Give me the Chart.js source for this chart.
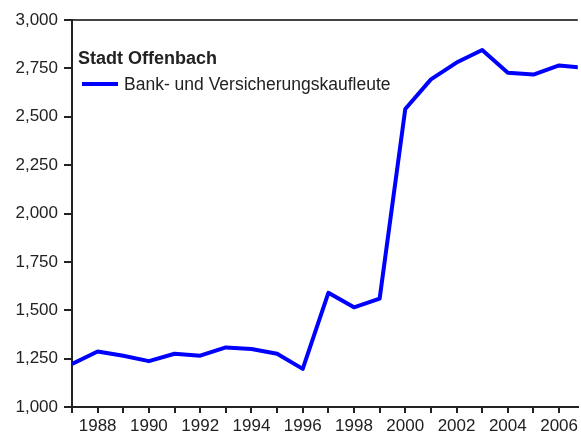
<!DOCTYPE html>
<html>
<head>
<meta charset="utf-8">
<script src="https://cdn.jsdelivr.net/npm/chart.js@4"></script>
<style>
  html, body { margin: 0; padding: 0; background: #fff; overflow: hidden; }
  #wrap { width: 581px; height: 435px; position: relative; }
</style>
</head>
<body>
<div id="wrap"><canvas id="chart" width="581" height="435"></canvas></div>
<script>
const legendTitle = 'Stadt Offenbach';
const seriesLabel = 'Bank- und Versicherungskaufleute';
const years = [1987, 1988, 1989, 1990, 1991, 1992, 1993, 1994, 1995, 1996, 1997,
               1998, 1999, 2000, 2001, 2002, 2003, 2004, 2005, 2006, 2007];
const values = [1222, 1287, 1265, 1237, 1275, 1265, 1308, 1300, 1275, 1197, 1590,
                1515, 1560, 2540, 2693, 2780, 2845, 2728, 2718, 2765, 2752];
const yMin = 1000, yMax = 3000, yStep = 250;
const xMin = 1987, xMax = 2006.73;

const textColor = '#222';
const fontFamily = '"Liberation Sans", Arial, sans-serif';

// legend drawn inside the plot, top left
const insideLegend = {
    id: 'insideLegend',
    afterDraw(chart) {
        const c = chart.ctx;
        const ds = chart.data.datasets[0];
        c.save();
        c.fillStyle = textColor;
        c.textBaseline = 'alphabetic';
        c.font = 'bold 18px ' + fontFamily;
        c.fillText(legendTitle, 78, 64);
        c.strokeStyle = ds.borderColor;
        c.lineWidth = 4;
        c.beginPath();
        c.moveTo(82, 84);
        c.lineTo(118, 84);
        c.stroke();
        c.font = '17.5px ' + fontFamily;
        c.fillText(ds.label, 124, 90);
        c.restore();
    }
};

const ctx = document.getElementById('chart').getContext('2d');
const chart = new Chart(ctx, {
    type: 'line',
    data: {
        datasets: [{
            label: seriesLabel,
            data: years.map((y, i) => ({ x: y, y: values[i] })),
            borderColor: '#0000ff',
            borderWidth: 4,
            pointRadius: 0,
            tension: 0,
            borderJoinStyle: 'round'
        }]
    },
    options: {
        responsive: false,
        animation: false,
        layout: { padding: { top: 20, right: 0, left: 0, bottom: 0 } },
        plugins: {
            legend: { display: false },
            tooltip: { enabled: false }
        },
        scales: {
            x: {
                type: 'linear',
                min: xMin,
                max: xMax,
                afterFit: s => { s.height = 28; },
                border: { color: textColor, width: 2 },
                grid: { drawOnChartArea: false, tickLength: 6, color: textColor, lineWidth: 2 },
                ticks: {
                    stepSize: 1,
                    autoSkip: false,
                    includeBounds: false,
                    maxRotation: 0,
                    padding: 3,
                    color: textColor,
                    font: { family: fontFamily, size: 17 },
                    callback: v => (Number.isInteger(v) && v % 2 === 0) ? String(v) : ''
                }
            },
            y: {
                min: yMin,
                max: yMax,
                afterFit: s => { s.width = 72; },
                border: { color: textColor, width: 2 },
                grid: {
                    tickLength: 8,
                    lineWidth: 2,
                    tickColor: textColor,
                    color: c => (c.tick && c.tick.value === yMax) ? '#444' : 'rgba(0,0,0,0)'
                },
                ticks: {
                    stepSize: yStep,
                    padding: 6,
                    color: textColor,
                    font: { family: fontFamily, size: 17 },
                    callback: v => v.toLocaleString('en-US')
                }
            }
        }
    },
    plugins: [insideLegend]
});
</script>
</body>
</html>
